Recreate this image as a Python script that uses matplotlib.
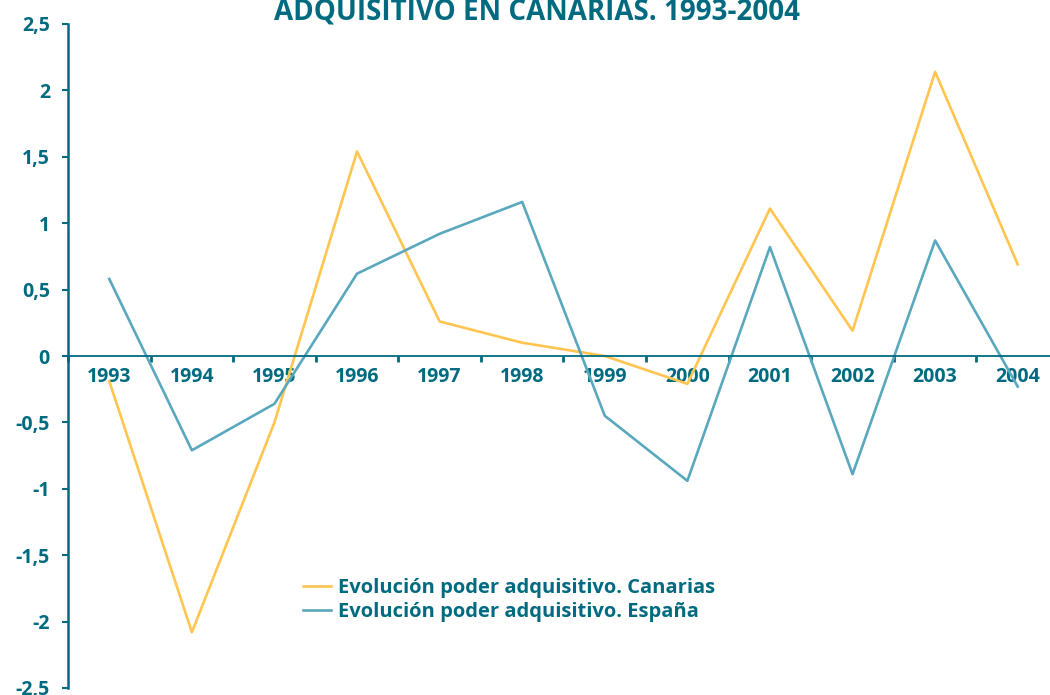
import numpy as np
import matplotlib.pyplot as plt

# data
years = ['1993', '1994', '1995', '1996', '1997', '1998',
         '1999', '2000', '2001', '2002', '2003', '2004']
canarias = [-0.19, -2.08, -0.50, 1.54, 0.26, 0.10, 0.00, -0.21, 1.11, 0.19, 2.14, 0.69]
espana = [0.58, -0.71, -0.36, 0.62, 0.92, 1.16, -0.45, -0.94, 0.82, -0.89, 0.87, -0.23]
yticks = [-2.5, -2, -1.5, -1, -0.5, 0, 0.5, 1, 1.5, 2, 2.5]
ylabels = ['-2,5', '-2', '-1,5', '-1', '-0,5', '0', '0,5', '1', '1,5', '2', '2,5']

teal = '#006B80'
yellow = '#FFC550'
blue = '#5AA8BE'
font = ['Open Sans', 'DejaVu Sans']

fig = plt.figure(figsize=(10.5, 6.95), dpi=100)
ax = fig.add_axes([68/1050, 1 - 688/695, (1059 - 68)/1050, (688 - 24)/695])

x = np.arange(len(years))
ax.plot(x, canarias, color=yellow, lw=1.9, label='Evolución poder adquisitivo. Canarias')
ax.plot(x, espana, color=blue, lw=1.9, label='Evolución poder adquisitivo. España')

ax.set_xlim(-0.5, len(years) - 0.5)
ax.set_ylim(-2.5, 2.5)

# spines: y axis at left, x axis through zero
ax.spines['top'].set_visible(False)
ax.spines['right'].set_visible(False)
ax.spines['bottom'].set_position(('data', 0))
ax.spines['bottom'].set_color(teal)
ax.spines['bottom'].set_linewidth(1.3)
ax.spines['left'].set_color(teal)
ax.spines['left'].set_linewidth(1.8)

ax.set_yticks(yticks)
ax.set_yticklabels(ylabels)
ax.tick_params(axis='y', direction='out', length=4, width=1.5, color=teal, pad=9,
               labelcolor=teal, labelsize=14)

ax.set_xticks(x)
ax.set_xticklabels(years)
ax.set_xticks(np.arange(-0.5, len(years), 1), minor=True)
ax.tick_params(axis='x', which='major', length=0, pad=8, labelcolor=teal, labelsize=14)
ax.tick_params(axis='x', which='minor', direction='out', length=4, width=2, color=teal)

for lab in ax.get_xticklabels() + ax.get_yticklabels():
    lab.set_fontweight('bold')
    lab.set_family(font)

fig.text(537/1050, 1 - 20/695, 'ADQUISITIVO EN CANARIAS. 1993-2004', ha='center',
         va='baseline', color=teal, fontsize=20, fontweight='bold', family=font)

leg = ax.legend(loc='upper left', bbox_to_anchor=(285/1050, 1 - 560/695),
                bbox_transform=fig.transFigure, frameon=False, handlelength=1.4,
                handletextpad=0.35, labelspacing=0.2,
                prop={'family': font, 'weight': 'bold', 'size': 14.5})
for t in leg.get_texts():
    t.set_color(teal)

fig.savefig('out.png', dpi=100)
